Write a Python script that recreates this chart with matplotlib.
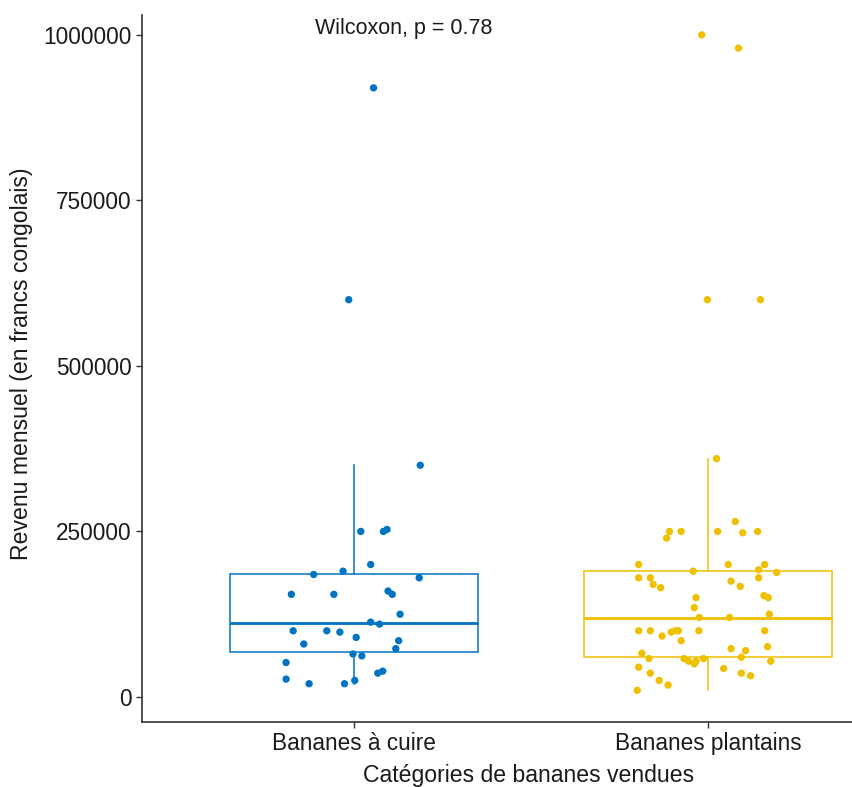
import matplotlib
matplotlib.use("Agg")
import matplotlib.pyplot as plt

plt.rcParams['font.family'] = ['Liberation Sans', 'DejaVu Sans']

categories = ["Bananes à cuire", "Bananes plantains"]
colors = ["#0073C2", "#EFC000"]

values_cuire = [920000, 600000, 350000, 250000, 250000, 253000, 200000, 190000,
                185000, 180000, 155000, 155000, 160000, 155000, 125000, 113000,
                110000, 100000, 100000, 98000, 90000, 80000, 85000, 73000,
                65000, 62000, 52000, 36000, 39000, 27000, 25000, 20000, 20000]
jitter_cuire = [0.054, -0.016, 0.186, 0.018, 0.082, 0.092, 0.046, -0.032,
                -0.115, 0.183, -0.178, -0.058, 0.095, 0.107, 0.129, 0.046,
                0.071, -0.173, -0.078, -0.041, 0.005, -0.143, 0.125, 0.117,
                -0.004, 0.021, -0.193, 0.066, 0.080, -0.193, 0.001, -0.128, -0.028]

values_plantains = [1000000, 980000, 600000, 600000,
                    360000, 265000, 250000, 250000, 250000, 248000, 250000, 240000,
                    200000, 200000, 200000, 190000, 192000, 188000, 180000, 180000,
                    180000, 170000, 165000, 175000, 167000, 150000, 153000, 150000,
                    135000, 120000, 120000, 125000, 100000, 100000, 98000, 100000,
                    100000, 92000, 100000, 100000, 85000, 73000, 70000, 76000,
                    66000, 60000, 58000, 58000, 54000, 54000, 50000, 58000,
                    54000, 45000, 43000, 36000, 36000, 32000, 25000, 18000, 10000]
jitter_plantains = [-0.019, 0.085, -0.003, 0.147,
                    0.023, 0.076, -0.110, -0.077, 0.026, 0.097, 0.139, -0.118,
                    -0.197, 0.056, 0.159, -0.043, 0.142, 0.193, -0.197, -0.164,
                    0.142, -0.156, -0.135, 0.064, 0.090, -0.035, 0.157, 0.169,
                    -0.040, -0.026, 0.060, 0.172, -0.197, -0.164, -0.105, -0.093,
                    -0.085, -0.131, -0.027, 0.159, -0.077, 0.064, 0.105, 0.167,
                    -0.188, 0.093, -0.168, -0.069, -0.056, -0.035, -0.040, -0.014,
                    0.176, -0.197, 0.043, -0.164, 0.093, 0.119, -0.139, -0.114, -0.201]

# box statistics
box_whislo = [20000, 10000]
box_q1 = [67500, 60000]
box_med = [112000, 120000]
box_q3 = [185000, 191000]
box_whishi = [350000, 360000]

yticks = [0, 250000, 500000, 750000, 1000000]
annotation = "Wilcoxon, p = 0.78"

W, H = 852, 787
fig = plt.figure(figsize=(W / 100, H / 100), dpi=100)
ax = fig.add_axes([142 / W, (H - 722) / H, 778.8 / W, (722 - 15) / H])

for i in range(2):
    st = dict(med=box_med[i], q1=box_q1[i], q3=box_q3[i],
              whislo=box_whislo[i], whishi=box_whishi[i], fliers=[])
    ax.bxp([st], positions=[i + 1], widths=0.7, showcaps=False,
           showfliers=False, patch_artist=True,
           boxprops=dict(facecolor="white", edgecolor=colors[i], linewidth=1.1),
           whiskerprops=dict(color=colors[i], linewidth=1.1),
           medianprops=dict(color=colors[i], linewidth=2.0),
           zorder=2)

groups = [(values_cuire, jitter_cuire), (values_plantains, jitter_plantains)]
for i, (vals, jit) in enumerate(groups):
    xs = [i + 1 + j for j in jit]
    ax.scatter(xs, vals, s=28, color=colors[i], edgecolors="none", zorder=3)

ax.set_xlim(0.4, 2.6)
ax.set_ylim(-37800, 1030000)
ax.set_xticks([1, 2])
ax.set_xticklabels(categories)
ax.set_yticks(yticks)
ax.set_yticklabels([str(v) for v in yticks])

for s in ["top", "right"]:
    ax.spines[s].set_visible(False)
for s in ["left", "bottom"]:
    ax.spines[s].set_color("#333333")
    ax.spines[s].set_linewidth(1.2)

ax.tick_params(axis="both", length=4.5, width=1.0, color="#333333",
               labelsize=16.3, labelcolor="#1a1a1a", pad=3)
ax.set_xlabel("Catégories de bananes vendues", fontsize=16.6, color="#1a1a1a")
ax.set_ylabel("Revenu mensuel (en francs congolais)", fontsize=16.6, color="#1a1a1a")
ax.xaxis.set_label_coords((529 - 142) / 778.8, (722 - 764) / 707)
ax.yaxis.set_label_coords((33 - 142) / 778.8, (722 - 364) / 707)

ax.text(0.89, 1010000, annotation, ha="left", va="center", fontsize=15.5, color="#1a1a1a")

fig.savefig("out.png", dpi=100)
